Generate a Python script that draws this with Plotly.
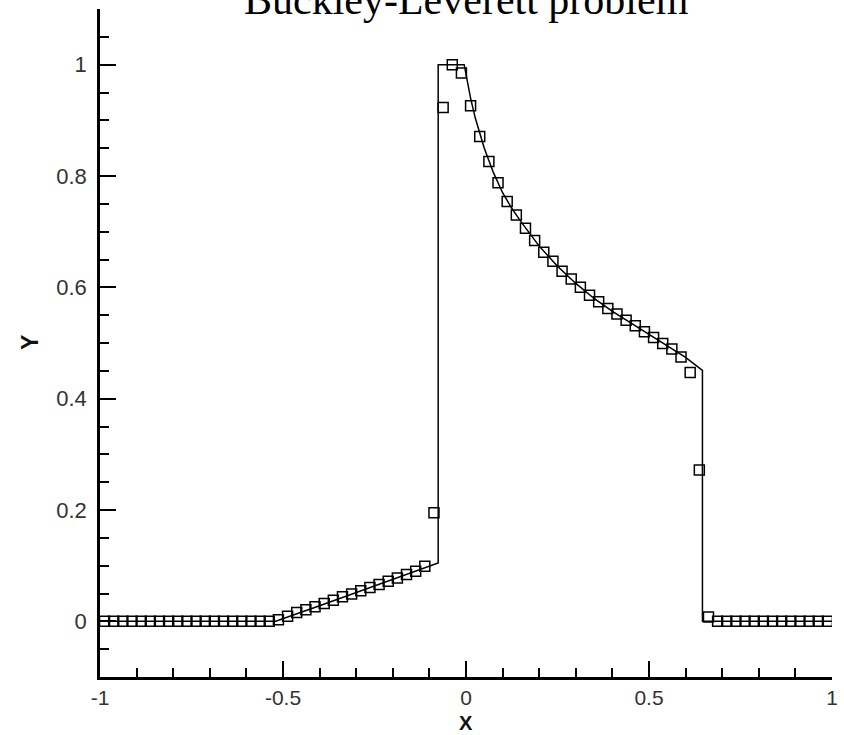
import plotly.graph_objects as go

# Numerical solution (cell centres)
x_num = [-0.9875, -0.9625, -0.9375, -0.9125, -0.8875, -0.8625, -0.8375, -0.8125,
         -0.7875, -0.7625, -0.7375, -0.7125, -0.6875, -0.6625, -0.6375, -0.6125,
         -0.5875, -0.5625, -0.5375, -0.5125, -0.4875, -0.4625, -0.4375, -0.4125,
         -0.3875, -0.3625, -0.3375, -0.3125, -0.2875, -0.2625, -0.2375, -0.2125,
         -0.1875, -0.1625, -0.1375, -0.1125, -0.0875, -0.0625, -0.0375, -0.0125,
         0.0125, 0.0375, 0.0625, 0.0875, 0.1125, 0.1375, 0.1625, 0.1875,
         0.2125, 0.2375, 0.2625, 0.2875, 0.3125, 0.3375, 0.3625, 0.3875,
         0.4125, 0.4375, 0.4625, 0.4875, 0.5125, 0.5375, 0.5625, 0.5875,
         0.6125, 0.6375, 0.6625, 0.6875, 0.7125, 0.7375, 0.7625, 0.7875,
         0.8125, 0.8375, 0.8625, 0.8875, 0.9125, 0.9375, 0.9625, 0.9875]
y_num = [0.0, 0.0, 0.0, 0.0, 0.0, 0.0, 0.0, 0.0,
         0.0, 0.0, 0.0, 0.0, 0.0, 0.0, 0.0, 0.0,
         0.0, 0.0, 0.0, 0.003, 0.009, 0.016, 0.021, 0.026,
         0.032, 0.038, 0.044, 0.049, 0.055, 0.061, 0.066, 0.072,
         0.078, 0.084, 0.090, 0.099, 0.195, 0.923, 1.000, 0.985,
         0.926, 0.871, 0.826, 0.788, 0.754, 0.730, 0.706, 0.684,
         0.663, 0.647, 0.629, 0.615, 0.600, 0.586, 0.574, 0.562,
         0.552, 0.541, 0.531, 0.520, 0.510, 0.499, 0.489, 0.475,
         0.447, 0.272, 0.008, 0.0, 0.0, 0.0, 0.0, 0.0,
         0.0, 0.0, 0.0, 0.0, 0.0, 0.0, 0.0, 0.0]

# Reference (exact) solution
x_ref = [-1.0, -0.52, -0.4, -0.3, -0.2, -0.076, -0.076, -0.005, 0.0125, 0.025,
         0.05, 0.075, 0.1, 0.125, 0.15, 0.2, 0.25, 0.3, 0.35, 0.4,
         0.45, 0.5, 0.55, 0.6, 0.646, 0.646, 1.0]
y_ref = [0.0, 0.0, 0.028, 0.052, 0.075, 0.105, 1.0, 1.0, 0.94, 0.905,
         0.85, 0.806, 0.77, 0.742, 0.718, 0.674, 0.638, 0.607, 0.58, 0.557,
         0.536, 0.515, 0.495, 0.474, 0.451, 0.0, 0.0]

x_ticks = [-1, -0.5, 0, 0.5, 1]
x_ticklabels = ["-1", "-0.5", "0", "0.5", "1"]
y_ticks = [0, 0.2, 0.4, 0.6, 0.8, 1]
y_ticklabels = ["0", "0.2", "0.4", "0.6", "0.8", "1"]

fig = go.Figure()
fig.add_trace(go.Scatter(x=x_ref, y=y_ref, mode="lines",
                         line=dict(color="black", width=1.5), showlegend=False))
fig.add_trace(go.Scatter(x=x_num, y=y_num, mode="markers",
                         marker=dict(symbol="square-open", size=10, color="black",
                                     line=dict(width=1.5, color="black")),
                         showlegend=False))

tickfont = dict(family="Liberation Sans, Arial", size=21, color="#333")
labfont = dict(family="Liberation Sans, Arial", size=23, color="#111")
fig.update_layout(
    width=844, height=735,
    margin=dict(l=100, r=12, t=9, b=58),
    paper_bgcolor="white", plot_bgcolor="white",
    xaxis=dict(range=[-1, 1], tickvals=x_ticks, ticktext=x_ticklabels,
               ticks="inside", ticklen=16, tickwidth=2, tickcolor="black",
               showline=True, linewidth=2.5, linecolor="black", mirror=False,
               showgrid=False, zeroline=False, tickfont=tickfont,
               ticklabelstandoff=0, automargin=False,
               minor=dict(dtick=0.1, tick0=0, ticks="inside", ticklen=9,
                          tickwidth=1.5, tickcolor="black", showgrid=False)),
    yaxis=dict(range=[-0.1, 1.1], tickvals=y_ticks, ticktext=y_ticklabels,
               ticks="inside", ticklen=16, tickwidth=2, tickcolor="black",
               showline=True, linewidth=2.5, linecolor="black", mirror=False,
               showgrid=False, zeroline=False, tickfont=dict(tickfont, size=22),
               ticklabelstandoff=6, automargin=False,
               minor=dict(dtick=0.05, tick0=0, ticks="inside", ticklen=9,
                          tickwidth=1.5, tickcolor="black", showgrid=False)),
    annotations=[
        dict(text="Buckley-Leverett problem", xref="paper", yref="paper",
             x=0.5, y=1.014, xanchor="center", yanchor="middle", showarrow=False,
             font=dict(family="Liberation Serif, Times New Roman", size=42, color="black")),
        dict(text="<b>X</b>", xref="paper", yref="paper", x=0.5, y=-0.087,
             xanchor="center", yanchor="bottom", showarrow=False,
             font=dict(labfont, size=20), borderpad=0),
        dict(text="<b>Y</b>", xref="paper", yref="paper", x=-0.0956, y=0.5,
             xanchor="center", yanchor="middle", showarrow=False, textangle=-90,
             font=labfont),
    ],
)

fig.write_html("out.html")
